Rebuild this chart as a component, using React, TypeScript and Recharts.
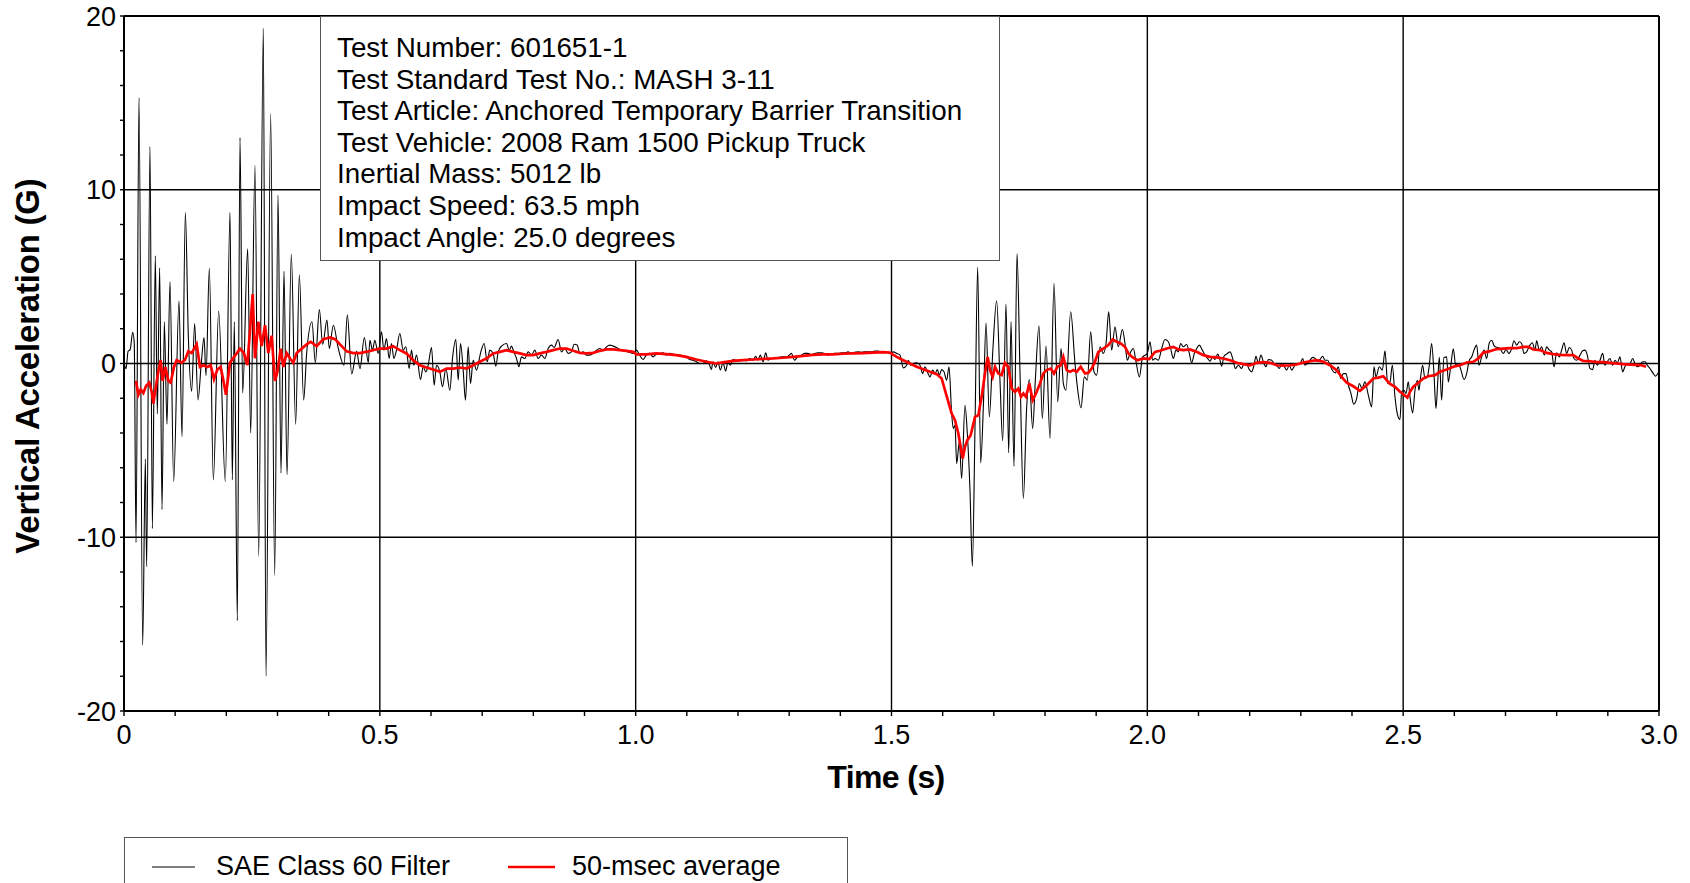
import React from 'react';
import { LineChart, Line, XAxis, YAxis, ReferenceLine, Legend } from 'recharts';

// ---------- axis ticks / labels ----------
const xMinorTicks = [0, 0.1, 0.2, 0.3, 0.4, 0.5, 0.6, 0.7, 0.8, 0.9, 1.0, 1.1, 1.2, 1.3, 1.4, 1.5, 1.6, 1.7, 1.8, 1.9, 2.0, 2.1, 2.2, 2.3, 2.4, 2.5, 2.6, 2.7, 2.8, 2.9, 3.0];
const xMajorTicks = [0, 0.5, 1.0, 1.5, 2.0, 2.5, 3.0];
const xTickLabels = ['0', '0.5', '1.0', '1.5', '2.0', '2.5', '3.0'];
const xGridLines = [0.5, 1.0, 1.5, 2.0, 2.5];
const yMinorTicks = [-20, -18, -16, -14, -12, -10, -8, -6, -4, -2, 0, 2, 4, 6, 8, 10, 12, 14, 16, 18, 20];
const yMajorTicks = [-20, -10, 0, 10, 20];
const yTickLabels = ['-20', '-10', '0', '10', '20'];
const yGridLines = [-10, 0, 10];

const xTitle = 'Time (s)';
const yTitle = 'Vertical Acceleration (G)';
const seriesNames = ['SAE Class 60 Filter', '50-msec average'];
const seriesColors = ['#000000', '#ff0000'];
const infoLines = [
  'Test Number: 601651-1',
  'Test Standard Test No.: MASH 3-11',
  'Test Article: Anchored Temporary Barrier Transition',
  'Test Vehicle: 2008 Ram 1500 Pickup Truck',
  'Inertial Mass: 5012 lb',
  'Impact Speed: 63.5 mph',
  'Impact Angle: 25.0 degrees',
];

// ---------- SAE Class 60 filtered signal [time s, accel G] ----------
const saeSeg1 = [
  [0.000, 0.1], [0.004, -0.3], [0.008, 0.7], [0.012, 0.8], [0.017, 1.8], [0.020, 1.2],
  [0.0235, -10.3], [0.0293, 15.3], [0.0365, -16.2], [0.0417, -5.5], [0.0443, -11.7], [0.0508, 12.5],
  [0.0554, -9.5], [0.0612, 6.2], [0.0651, -2.9], [0.0697, 5.5], [0.0743, -8.4], [0.0788, 2.4],
  [0.0840, -3.5], [0.0899, 4.7], [0.0971, -6.8], [0.1075, 3.6], [0.1134, -4.2], [0.1199, 8.7],
  [0.1257, 1.6], [0.1322, -1.6], [0.1381, 2.3], [0.1446, -2.1], [0.1511, 0.05], [0.1564, 1.5],
  [0.1603, -0.7], [0.1668, 5.5], [0.1746, -6.7], [0.1850, 3.0], [0.1980, -6.8], [0.2072, 8.7],
  [0.2117, -6.7], [0.2156, 2.4], [0.2215, -14.8], [0.2267, 13.0], [0.2319, -1.7], [0.2417, 6.6],
  [0.2476, -4.0], [0.2560, 11.4], [0.2632, -11.1], [0.2723, 19.3], [0.2775, -18.0], [0.2866, 14.4],
  [0.2945, -12.2], [0.3010, 9.7], [0.3068, -6.3], [0.3127, 5.3], [0.3186, -6.4], [0.3270, 6.3],
  [0.3355, -3.5], [0.3427, 5.1], [0.3511, -2.1], [0.3570, 0.6], [0.3674, 2.4], [0.3739, 0.05],
  [0.3818, 3.1], [0.3883, 1.1], [0.3967, 2.5], [0.4013, 0.85], [0.4091, 2.2], [0.4189, 0.85],
  [0.4300, -0.1], [0.4365, 2.8], [0.4450, -0.6], [0.4547, 0.7], [0.4612, -0.3], [0.4697, 1.5],
  [0.4775, 0.05],
];
const saeSeg2 = [
  [0.4805, 1.34], [0.4857, 0.77], [0.4902, 1.34], [0.4967, 0.58], [0.5033, 1.82], [0.5078, 0.77],
  [0.5130, 1.44], [0.5182, 0.29], [0.5228, 1.15], [0.5274, 0.29], [0.5326, 0.77], [0.5391, 1.73],
  [0.5456, 0.77], [0.5508, 0.96], [0.5573, -0.29], [0.5619, 0.77], [0.5664, -0.1], [0.5717, 0.48],
  [0.5795, -0.92], [0.5847, -0.19], [0.5899, -0.48], [0.5945, -0.1], [0.6010, 0.92], [0.6062, -1.25],
  [0.6107, -0.1], [0.6173, -0.48], [0.6225, -1.34], [0.6290, -0.29], [0.6368, -1.54], [0.6420, 0.29],
  [0.6485, 1.38], [0.6531, -0.96], [0.6577, 1.15], [0.6629, -0.38], [0.6674, -2.11], [0.6726, 0.96],
  [0.6772, -1.15], [0.6824, 0.19], [0.6889, -0.38], [0.6974, 0.67], [0.7039, 1.15], [0.7098, 0.1],
  [0.7150, 0.77], [0.7215, 0.58], [0.7267, -0.15], [0.7313, 0.67], [0.7378, 1.0], [0.7476, 1.15],
  [0.7528, 0.77], [0.7573, 1.0], [0.7619, 0.67], [0.7671, 0.29], [0.7717, -0.19], [0.7769, 0.38],
  [0.7834, 0.29], [0.7899, 0.67], [0.7964, 0.48], [0.8029, 0.77], [0.8094, 0.29], [0.8160, 0.48],
  [0.8225, 0.29], [0.8290, 0.86], [0.8355, 1.06], [0.8407, 0.92], [0.8485, 1.38], [0.8550, 0.67],
  [0.8616, 0.86], [0.8681, 0.58], [0.8746, 0.67], [0.8798, 1.11], [0.8857, 1.06], [0.8909, 0.58],
  [0.8974, 0.67], [0.9039, 0.48], [0.9104, 0.48], [0.9169, 0.58], [0.9235, 0.77], [0.9300, 0.86],
  [0.9365, 0.77], [0.9430, 0.96], [0.9495, 1.06], [0.9560, 1.0], [0.9658, 0.86], [0.9756, 0.73],
  [0.9853, 0.67], [0.9951, 0.58], [1.0016, 0.77],
];
const saeSeg3 = [
  [1.0078, 0.48], [1.0143, 0.23], [1.0208, 0.48], [1.0274, 0.58], [1.0339, 0.38], [1.0404, 0.54],
  [1.0469, 0.58], [1.0534, 0.61], [1.0599, 0.48], [1.0664, 0.58], [1.0730, 0.54], [1.0795, 0.48],
  [1.0860, 0.48], [1.0925, 0.44], [1.0990, 0.38], [1.1055, 0.23], [1.1121, 0.19], [1.1186, 0.1],
  [1.1251, 0], [1.1316, 0], [1.1381, 0.15], [1.1446, -0.1], [1.1479, -0.35], [1.1511, 0.1],
  [1.1564, -0.23], [1.1609, 0.1], [1.1655, -0.38], [1.1707, 0.04], [1.1759, -0.44], [1.1805, 0.1],
  [1.1850, -0.1], [1.1902, 0.23], [1.1967, 0.19], [1.2033, 0.15], [1.2098, 0.23], [1.2163, 0.15],
  [1.2228, 0.29], [1.2293, 0.19], [1.2345, 0.42], [1.2391, 0.19], [1.2436, 0.48], [1.2489, 0.1],
  [1.2541, 0.61], [1.2586, 0.19], [1.2651, 0.29], [1.2717, 0.29], [1.2782, 0.33], [1.2847, 0.38],
  [1.2912, 0.38], [1.2977, 0.42], [1.3042, 0.58], [1.3107, 0.19], [1.3173, 0.42], [1.3238, 0.48],
  [1.3303, 0.58], [1.3368, 0.58], [1.3433, 0.52], [1.3498, 0.58], [1.3564, 0.61], [1.3629, 0.61],
  [1.3694, 0.58], [1.3759, 0.48], [1.3824, 0.54], [1.3889, 0.58], [1.3954, 0.58], [1.4020, 0.61],
  [1.4085, 0.61], [1.4150, 0.67], [1.4215, 0.61], [1.4280, 0.65], [1.4345, 0.67], [1.4410, 0.65],
  [1.4476, 0.67], [1.4541, 0.67], [1.4606, 0.67], [1.4671, 0.71], [1.4736, 0.71], [1.4801, 0.67],
  [1.4866, 0.65], [1.4932, 0.65],
];
const saeSeg4 = [
  [1.4971, 0.58], [1.5036, 0.67], [1.5101, 0.58], [1.5166, 0.48], [1.5231, -0.25], [1.5296, -0.1],
  [1.5329, 0.19], [1.5375, -0.1], [1.5427, 0], [1.5492, 0.04], [1.5557, -0.1], [1.5609, -0.58],
  [1.5655, -0.19], [1.5700, -0.48], [1.5752, -0.77], [1.5805, -0.38], [1.5850, -0.58], [1.5896, -0.35],
  [1.5935, -0.67], [1.5980, -0.35], [1.6026, -0.48], [1.6078, -0.96], [1.6124, -0.19], [1.6176, -2.88],
  [1.6208, -3.74], [1.6241, -3.55], [1.6274, -5.76], [1.6326, -4.51], [1.6371, -6.62], [1.6436, -2.4],
  [1.6482, -4.03], [1.6534, -7.29], [1.6580, -11.67], [1.6632, -3.65], [1.6684, 5.53], [1.6743, -5.72],
  [1.6795, -2.5], [1.6847, 2.34], [1.6912, -3.07], [1.6977, 0.58], [1.7055, 3.61], [1.7120, -0.96],
  [1.7173, -4.45], [1.7238, 3.42], [1.7290, -5.14], [1.7336, 2.4], [1.7394, -5.91], [1.7453, 6.33],
  [1.7512, -0.58], [1.7577, -7.77], [1.7642, -2.5], [1.7694, -0.92], [1.7759, -3.74], [1.7811, -0.96],
  [1.7883, 2.17], [1.7948, -3.17], [1.8020, 1.0], [1.8098, -4.32], [1.8176, 4.61], [1.8248, -2.21],
  [1.8313, 0.86], [1.8358, -1.15], [1.8410, -1.54], [1.8502, 2.98], [1.8586, 0], [1.8632, -1.34],
  [1.8704, -2.55], [1.8769, -0.77], [1.8827, -0.96], [1.8893, 1.82], [1.8958, -0.48], [1.9010, -0.67],
  [1.9075, 0.96], [1.9140, 0.58], [1.9193, 1.15], [1.9245, 2.98], [1.9303, 0.77], [1.9368, 2.11],
  [1.9433, 0.96], [1.9512, 1.96], [1.9564, 1.15], [1.9609, 0.19], [1.9661, 0.58], [1.9726, 0.86],
  [1.9779, 0.1], [1.9844, -0.77], [1.9909, 0.38], [2.0, 0.58],
];
const saeSeg5 = [
  [2.0052, 1.25], [2.0104, 0.19], [2.0150, 0.29], [2.0215, 0.19], [2.0280, 0.86], [2.0345, 1.38],
  [2.0410, 1.25], [2.0456, 0.86], [2.0508, 0.29], [2.0560, 0.77], [2.0606, 0.67], [2.0651, 1.15],
  [2.0704, 0.96], [2.0769, 1.09], [2.0821, 0.58], [2.0866, 0.04], [2.0919, 0.58], [2.0964, 0.86],
  [2.1016, 1.06], [2.1075, 0.77], [2.1127, 0.48], [2.1179, 0.29], [2.1225, 0.13], [2.1277, 0.38],
  [2.1322, 0.23], [2.1375, 0.54], [2.1420, 0.19], [2.1453, -0.15], [2.1498, 0.42], [2.1550, 0.54],
  [2.1616, 0.67], [2.1668, 0.29], [2.1720, -0.29], [2.1779, -0.1], [2.1844, -0.29], [2.1889, 0],
  [2.1942, -0.04], [2.1994, -0.35], [2.2039, -0.48], [2.2085, -0.1], [2.2124, 0.42], [2.2169, 0],
  [2.2221, 0.48], [2.2267, 0.1], [2.2319, -0.19], [2.2365, 0.23], [2.2430, 0.19], [2.2476, 0],
  [2.2528, -0.1], [2.2580, -0.29], [2.2625, 0], [2.2671, -0.15], [2.2723, -0.38], [2.2775, -0.1],
  [2.2821, -0.38], [2.2866, -0.19], [2.2919, 0], [2.2984, 0], [2.3036, 0.29], [2.3081, -0.1],
  [2.3127, 0], [2.3179, 0.19], [2.3231, 0.35], [2.3277, 0.29], [2.3322, 0.1], [2.3375, 0.23],
  [2.3427, 0.42], [2.3472, 0.19], [2.3524, 0.19], [2.3570, -0.1], [2.3622, -0.42], [2.3674, -0.54],
  [2.3733, -0.19], [2.3779, -0.86], [2.3831, -0.58], [2.3883, -0.58], [2.3935, -1.31], [2.3980, -1.73],
  [2.4033, -2.34], [2.4091, -2.02], [2.4143, -1.15], [2.4195, -1.44], [2.4254, -1.06], [2.4319, -1.82],
  [2.4384, -2.5], [2.4430, -0.19], [2.4469, -0.77], [2.4534, -0.19], [2.4593, -0.38], [2.4645, 0.73],
  [2.4697, -1.15], [2.4743, -1.06], [2.4788, -0.1], [2.4840, -1.92], [2.4893, -2.98], [2.4938, -3.22],
];
const saeSeg6 = [
  [2.4970, -1.63], [2.5016, -1.54], [2.5055, -1.73], [2.5100, -1.06], [2.5133, -1.92], [2.5185, -2.84],
  [2.5231, -1.54], [2.5276, -0.96], [2.5309, -1.54], [2.5341, -0.77], [2.5380, -0.1], [2.5426, -0.86],
  [2.5472, -0.77], [2.5511, -0.1], [2.5556, 1.15], [2.5602, -0.58], [2.5641, -2.59], [2.5674, -1.15],
  [2.5706, 0.35], [2.5752, -2.11], [2.5797, 0.35], [2.5850, 0.38], [2.5882, -1.06], [2.5928, -0.19],
  [2.5980, 0.84], [2.6026, -0.1], [2.6078, 0], [2.6130, -0.38], [2.6189, -0.92], [2.6241, -0.58],
  [2.6293, 0.19], [2.6339, 0.38], [2.6384, 0.77], [2.6436, 1.06], [2.6482, -0.1], [2.6534, 0.38],
  [2.6580, 0.77], [2.6632, 0.29], [2.6684, 1.19], [2.6729, 1.34], [2.6782, 1.0], [2.6840, 0.92],
  [2.6893, 0.86], [2.6958, 0.58], [2.7010, 0.81], [2.7068, 0.58], [2.7121, 0.86], [2.7166, 1.31],
  [2.7218, 1.06], [2.7270, 1.25], [2.7315, 1.15], [2.7361, 0.58], [2.7413, 0.67], [2.7465, 1.0],
  [2.7524, 1.19], [2.7576, 0.77], [2.7609, 1.31], [2.7661, 0.77], [2.7707, 0.96], [2.7759, 0.48],
  [2.7804, 0.96], [2.7857, 0.77], [2.7902, 0.67], [2.7948, -0.19], [2.7999, 0.61], [2.8052, 0.38],
  [2.8097, 0.77], [2.8143, 1.19], [2.8195, 0.58], [2.8247, 0.92], [2.8293, 0.77], [2.8338, 0.29],
  [2.8390, 0.19], [2.8456, 0.48], [2.8508, 0.73], [2.8553, 0.77], [2.8599, 0.48], [2.8651, -0.29],
  [2.8704, -0.35], [2.8749, 0.19], [2.8795, -0.1], [2.8847, 0.19], [2.8899, 0.58], [2.8944, -0.1],
  [2.8990, 0.1], [2.9042, 0.29], [2.9094, -0.1], [2.9140, 0.19], [2.9185, 0.04], [2.9237, 0.38],
  [2.9289, -0.48], [2.9335, -0.19], [2.9381, 0], [2.9433, 0], [2.9485, 0.29], [2.9530, 0],
  [2.9576, -0.19], [2.9628, -0.1], [2.9680, 0.1], [2.9726, 0.1], [2.9772, -0.1], [2.9824, -0.29],
  [2.9889, -0.58], [2.9935, -0.73], [2.9987, -0.54], [3.0, -0.5],
];

// ---------- 50-msec average [time s, accel G] ----------
const avgSeg1 = [
  [0.0235, -1.0], [0.028, -1.8], [0.0326, -1.5], [0.0378, -1.7], [0.043, -1.3], [0.0495, -1.1],
  [0.0547, -1.7], [0.0573, -2.3], [0.0625, -1.3], [0.0678, -0.35], [0.0717, 0.2], [0.0756, -1.0],
  [0.0808, -0.2], [0.0866, -1.0], [0.0912, -1.1], [0.0977, -0.2], [0.1029, 0.2], [0.1127, 0.05],
  [0.1192, 0.2], [0.1257, 0.7], [0.1322, 0.6], [0.1420, 1.1], [0.1485, -0.2], [0.155, -0.1],
  [0.1629, -0.2], [0.1694, -0.1], [0.1759, -0.9], [0.1824, -0.35], [0.1889, -0.2], [0.1941, -0.95],
  [0.1993, -1.8], [0.2072, 0.05], [0.2169, 0.45], [0.2267, 0.85], [0.2345, 0.6], [0.2410, -0.1],
  [0.2463, 1.9], [0.2515, 4.0], [0.2560, 0.3], [0.2625, 2.4], [0.2691, 1.0], [0.2756, 2.2],
  [0.2821, 0.6], [0.2886, 1.6], [0.2951, -1.0], [0.2997, -0.5], [0.3062, 0.85], [0.3114, -0.2],
  [0.3179, 0.6], [0.3244, 0.3], [0.3309, 0.05], [0.3375, 0.6], [0.3472, 0.85], [0.3570, 1.1],
  [0.3648, 1.25], [0.3765, 1.0], [0.3896, 1.4], [0.4026, 1.5], [0.4124, 1.4], [0.4221, 1.1],
  [0.4352, 0.7], [0.4482, 0.6], [0.4612, 0.6], [0.4775, 0.7],
];
const avgSeg2 = [
  [0.5, 0.86], [0.513, 0.86], [0.526, 1.0], [0.5391, 0.77], [0.5521, 0.58], [0.5651, 0.19],
  [0.5782, -0.1], [0.5912, -0.23], [0.6042, -0.35], [0.6173, -0.48], [0.6303, -0.29], [0.6433, -0.29],
  [0.6564, -0.23], [0.6694, -0.29], [0.6824, -0.1], [0.6954, 0.1], [0.7085, 0.29], [0.7215, 0.58],
  [0.7345, 0.67], [0.7476, 0.77], [0.7606, 0.67], [0.7736, 0.58], [0.7866, 0.48], [0.7997, 0.48],
  [0.8127, 0.58], [0.8257, 0.67], [0.8388, 0.77], [0.8518, 0.86], [0.8648, 0.86], [0.8779, 0.73],
  [0.8909, 0.61], [0.9039, 0.58], [0.9169, 0.61], [0.9300, 0.73], [0.9430, 0.81], [0.9560, 0.81],
  [0.9691, 0.77], [0.9821, 0.73], [0.9951, 0.67],
];
const avgSeg3 = [
  [1.0013, 0.52], [1.0208, 0.52], [1.0404, 0.58], [1.0599, 0.54], [1.0795, 0.48], [1.0990, 0.38],
  [1.1186, 0.23], [1.1381, 0.1], [1.1577, 0], [1.1707, 0.06], [1.1902, 0.15], [1.2098, 0.19],
  [1.2293, 0.23], [1.2489, 0.27], [1.2684, 0.29], [1.2879, 0.33], [1.3075, 0.38], [1.3270, 0.44],
  [1.3466, 0.5], [1.3661, 0.52], [1.3857, 0.52], [1.4052, 0.56], [1.4248, 0.58], [1.4443, 0.6],
  [1.4638, 0.63], [1.4834, 0.65], [1.4964, 0.63],
];
const avgSeg4 = [
  [1.5101, 0.38], [1.5231, 0.19], [1.5362, 0], [1.5492, -0.19], [1.5622, -0.33], [1.5752, -0.48],
  [1.5883, -0.61], [1.5980, -0.86], [1.6046, -1.54], [1.6111, -2.21], [1.6176, -2.88], [1.6241, -3.26],
  [1.6306, -4.03], [1.6352, -4.8], [1.6391, -5.47], [1.6436, -4.8], [1.6482, -4.41], [1.6547, -4.13],
  [1.6632, -3.07], [1.6697, -2.98], [1.6762, -1.92], [1.6827, -0.58], [1.6880, 0.38], [1.6925, -0.38],
  [1.6977, -0.77], [1.7023, -0.19], [1.7088, -0.58], [1.7153, -0.67], [1.7218, 0.04], [1.7283, -0.19],
  [1.7349, -1.44], [1.7414, -1.63], [1.7479, -1.44], [1.7531, -1.92], [1.7577, -1.73], [1.7629, -1.92],
  [1.7694, -1.15], [1.7759, -2.11], [1.7824, -1.73], [1.7902, -1.15], [1.7967, -0.58], [1.8033, -0.38],
  [1.8111, -0.29], [1.8176, -0.58], [1.8241, -0.19], [1.8306, -0.1], [1.8358, 0.38], [1.8423, -0.38],
  [1.8489, -0.48], [1.8554, -0.38], [1.8619, -0.48], [1.8697, -0.19], [1.8782, -0.58], [1.8847, -0.54],
  [1.8912, -0.29], [1.8977, 0.1], [1.9042, 0.67], [1.9140, 0.86], [1.9238, 1.06], [1.9323, 1.38],
  [1.9401, 1.25], [1.9479, 1.15], [1.9564, 0.96], [1.9629, 0.58], [1.9714, 0.35], [1.9805, 0.19],
  [1.9922, 0.29], [2.0039, 0.25],
];
const avgSeg5 = [
  [2.0150, 0.67], [2.0248, 0.73], [2.0378, 0.86], [2.0508, 0.96], [2.0606, 0.81], [2.0704, 0.77],
  [2.0834, 0.81], [2.0964, 0.67], [2.1095, 0.48], [2.1225, 0.38], [2.1355, 0.35], [2.1485, 0.29],
  [2.1616, 0.19], [2.1746, 0.04], [2.1877, -0.04], [2.2007, -0.1], [2.2137, 0.04], [2.2267, 0.08],
  [2.2397, 0.04], [2.2528, -0.1], [2.2658, -0.12], [2.2788, -0.1], [2.2919, -0.06], [2.3049, 0.06],
  [2.3179, 0.13], [2.3309, 0.19], [2.3440, 0.1], [2.3570, -0.1], [2.3700, -0.38], [2.3798, -0.77],
  [2.3896, -1.11], [2.4026, -1.31], [2.4156, -1.57], [2.4287, -1.25], [2.4417, -0.86], [2.4515, -0.81],
  [2.4612, -0.73], [2.4730, -1.15], [2.4840, -1.34], [2.4938, -1.63],
];
const avgSeg6 = [
  [2.5003, -1.77], [2.5081, -1.96], [2.5133, -1.63], [2.5198, -1.34], [2.5296, -1.11], [2.5394, -0.86],
  [2.5492, -0.73], [2.5622, -0.67], [2.5720, -0.48], [2.5850, -0.35], [2.5980, -0.19], [2.6111, -0.1],
  [2.6241, 0.06], [2.6371, 0.1], [2.6469, 0.29], [2.6566, 0.63], [2.6697, 0.71], [2.6827, 0.83],
  [2.6957, 0.86], [2.7088, 0.88], [2.7218, 0.88], [2.7348, 0.96], [2.7446, 0.96], [2.7543, 0.81],
  [2.7674, 0.77], [2.7804, 0.61], [2.7935, 0.54], [2.8065, 0.5], [2.8195, 0.48], [2.8325, 0.48],
  [2.8423, 0.29], [2.8521, 0.15], [2.8651, 0.13], [2.8782, 0.08], [2.8912, 0.08], [2.9042, 0.04],
  [2.9172, 0], [2.9303, -0.04], [2.9433, -0.06], [2.9563, -0.08], [2.9661, -0.1], [2.9746, -0.19],
];

const toRows = (segs: number[][][]) => segs.flat().map(([t, v]) => ({ t, v }));
const saeData = toRows([saeSeg1, saeSeg2, saeSeg3, saeSeg4, saeSeg5, saeSeg6]);
const avgData = toRows([avgSeg1, avgSeg2, avgSeg3, avgSeg4, avgSeg5, avgSeg6]);

// ---------- styling ----------
const FONT = '"Liberation Sans", Arial, Helvetica, sans-serif';
const W = 1690;
const H = 883;

const near = (a: number, b: number) => Math.abs(a - b) < 1e-6;

const XTick = (props: any) => {
  const { x, y, payload } = props;
  const i = xMajorTicks.findIndex((v) => near(v, payload.value));
  if (i < 0) return <g />;
  return (
    <text x={x} y={y + 26} textAnchor="middle" fontSize={27} fontFamily={FONT} fill="#000">
      {xTickLabels[i]}
    </text>
  );
};

const YTick = (props: any) => {
  const { x, y, payload } = props;
  const i = yMajorTicks.findIndex((v) => near(v, payload.value));
  if (i < 0) return <g />;
  return (
    <text x={x} y={y + 9.7} textAnchor="end" fontSize={27} fontFamily={FONT} fill="#000">
      {yTickLabels[i]}
    </text>
  );
};

const XTitle = () => (
  <text x={886} y={788} textAnchor="middle" fontSize={32} fontWeight="bold" fontFamily={FONT} fill="#000" letterSpacing={-0.6}>
    {xTitle}
  </text>
);

const YTitle = () => (
  <text
    transform="translate(39, 366) rotate(-90)"
    textAnchor="middle"
    fontSize={33}
    fontWeight="bold"
    fontFamily={FONT}
    fill="#000"
    letterSpacing={-0.2}
  >
    {yTitle}
  </text>
);

const LegendBox = (props: any) => {
  const items = (props.payload || []) as any[];
  const positions = [27, 383];
  return (
    <div
      style={{
        position: 'relative',
        width: 724,
        height: 60,
        border: '1px solid #555',
        boxSizing: 'border-box',
        background: '#fff',
        fontFamily: FONT,
        fontSize: 27,
        color: '#000',
      }}
    >
      {seriesNames.map((name, i) => {
        const it = items.find((p) => p.value === name);
        const color = it ? it.color : seriesColors[i];
        return (
          <div
            key={name}
            style={{ position: 'absolute', left: positions[i], top: 13, height: 31, display: 'flex', alignItems: 'center', whiteSpace: 'nowrap', lineHeight: '31px' }}
          >
            <svg width={47} height={10} style={{ marginRight: 17 }}>
              <line x1={0} y1={5} x2={i === 0 ? 43 : 47} y2={5} stroke={color} strokeWidth={i === 0 ? 1.2 : 2.6} />
            </svg>
            <span>{name}</span>
          </div>
        );
      })}
    </div>
  );
};

export default function App() {
  return (
    <div style={{ position: 'absolute', left: 0, top: 0, width: W, height: H, overflow: 'hidden', background: '#fff' }}>
      <LineChart width={W} height={H} margin={{ top: 16, right: 31, left: 0, bottom: 72 }}>
        {xGridLines.map((g) => (
          <ReferenceLine key={'vx' + g} x={g} stroke="#000" strokeWidth={1.4} />
        ))}
        {yGridLines.map((g) => (
          <ReferenceLine key={'hy' + g} y={g} stroke="#000" strokeWidth={1.4} />
        ))}
        <ReferenceLine y={20} stroke="#000" strokeWidth={2} />
        <ReferenceLine x={3} stroke="#000" strokeWidth={2} />
        <XAxis
          type="number"
          dataKey="t"
          domain={[0, 3]}
          ticks={xMinorTicks}
          interval={0}
          allowDataOverflow
          height={100}
          tickSize={5}
          tickMargin={2}
          tick={<XTick />}
          axisLine={{ stroke: '#000', strokeWidth: 2 }}
          tickLine={{ stroke: '#000', strokeWidth: 1.4 }}
          label={<XTitle />}
        />
        <YAxis
          type="number"
          domain={[-20, 20]}
          ticks={yMinorTicks}
          interval={0}
          allowDataOverflow
          width={124}
          tickSize={4}
          tickMargin={4}
          tick={<YTick />}
          axisLine={{ stroke: '#000', strokeWidth: 2 }}
          tickLine={{ stroke: '#000', strokeWidth: 1.4 }}
          label={<YTitle />}
        />
        <Line
          data={saeData}
          dataKey="v"
          name={seriesNames[0]}
          type="monotone"
          stroke={seriesColors[0]}
          strokeWidth={1.1}
          dot={false}
          isAnimationActive={false}
        />
        <Line
          data={avgData}
          dataKey="v"
          name={seriesNames[1]}
          type="linear"
          stroke={seriesColors[1]}
          strokeWidth={2.7}
          dot={false}
          isAnimationActive={false}
        />
        <Legend
          layout="horizontal"
          verticalAlign="middle"
          align="center"
          content={<LegendBox />}
          wrapperStyle={{ left: 124, top: 837, width: 724, height: 60 }}
        />
      </LineChart>
      <div
        style={{
          position: 'absolute',
          left: 320,
          top: 16,
          width: 680,
          height: 245,
          boxSizing: 'border-box',
          border: '1px solid #555',
          background: '#fff',
          paddingTop: 15,
          paddingLeft: 16,
          fontFamily: FONT,
          fontSize: 27.8,
          lineHeight: '31.6px',
          color: '#000',
          whiteSpace: 'nowrap',
        }}
      >
        {infoLines.map((l) => (
          <div key={l}>{l}</div>
        ))}
      </div>
    </div>
  );
}
